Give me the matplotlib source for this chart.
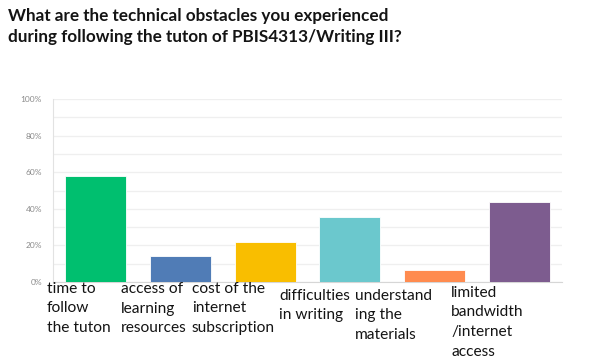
import matplotlib.pyplot as plt
import numpy as np

plt.rcParams['font.family'] = ['Lato', 'DejaVu Sans']

title = "What are the technical obstacles you experienced\nduring following the tuton of PBIS4313/Writing III?"
labels = ["time to\nfollow\nthe tuton",
          "access of\nlearning\nresources",
          "cost of the\ninternet\nsubscription",
          "difficulties\nin writing",
          "understand\ning the\nmaterials",
          "limited\nbandwidth\n/internet\naccess"]
values = [57.9, 14.0, 22.0, 35.5, 6.8, 43.9]
colors = ["#00bf6f", "#507cb6", "#f9be00", "#6bc8cd", "#ff8b4f", "#7d5c8f"]

# hand placed label boxes (pixels from left, pixels from top)
label_x = [47, 121, 192, 279, 355, 451]
label_y = [282, 282, 282, 289, 289, 286]

W, H = 608, 360
fig = plt.figure(figsize=(W / 100, H / 100), dpi=100)
ax = fig.add_axes([53 / W, 1 - 282 / H, (562 - 53) / W, (282 - 99) / H])

x = np.arange(len(values))
ax.bar(x, values, width=0.72, color=colors, edgecolor="white", linewidth=0.6, zorder=3)
ax.set_xlim(-0.5, len(values) - 0.5)
ax.set_ylim(0, 100)

ax.set_yticks(np.arange(0, 101, 20))
ax.set_yticklabels([f"{v}%" for v in range(0, 101, 20)], color="#8a8a8a", fontsize=6)
ax.set_yticks(np.arange(0, 101, 10), minor=True)
ax.grid(axis="y", which="both", color="#efefef", linewidth=0.9, zorder=0)
ax.tick_params(axis="y", which="both", length=0, pad=8)
ax.set_xticks([])

for s in ["top", "right"]:
    ax.spines[s].set_visible(False)
ax.spines["left"].set_color("#e2e2e2")
ax.spines["bottom"].set_color("#d6d6d6")

for lab, lx, ly in zip(labels, label_x, label_y):
    fig.text(lx / W, 1 - ly / H, lab, ha="left", va="top", fontsize=11.2,
             color="#141414", linespacing=1.5)

fig.text(8 / W, 1 - 8 / H, title, ha="left", va="top", fontsize=12.3,
         fontweight="bold", color="#141414", linespacing=1.35)

fig.savefig("out.png", dpi=100, facecolor="white")
